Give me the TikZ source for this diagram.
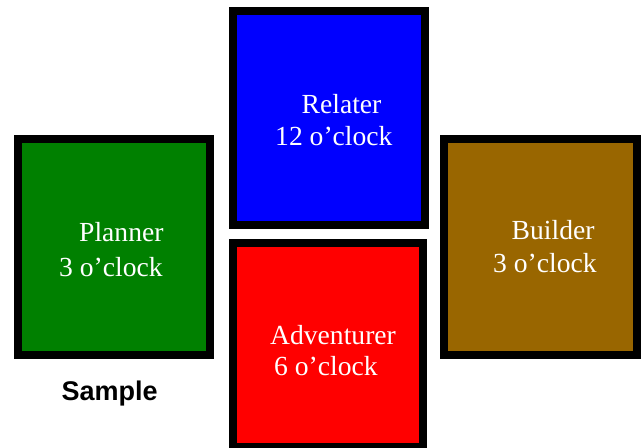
\documentclass[tikz,border=0pt]{standalone}
\usepackage{fontspec}
\setmainfont{Liberation Serif}
\newfontfamily\labelsans{Liberation Sans}
\definecolor{pgreen}{HTML}{008000}
\definecolor{pblue}{HTML}{0000FF}
\definecolor{pred}{HTML}{FF0000}
\definecolor{pbrown}{HTML}{996600}
\tikzset{
  quad/.style={draw=black, line width=8pt, rectangle, inner sep=0pt},
  qtext/.style={anchor=base west, inner sep=0pt, text=white, font=\fontsize{27.6}{30}\selectfont},
}
\begin{document}
\begin{tikzpicture}[x=1pt,y=-1pt]
\useasboundingbox (0,0) rectangle (644,447);
\node[quad, fill=pgreen, minimum width=192pt, minimum height=216pt] (planner) at (114,247) {};
\node[quad, fill=pblue, minimum width=192pt, minimum height=214pt] (relater) at (329,118) {};
\node[quad, fill=pred, minimum width=190pt, minimum height=204pt] (adventurer) at (328,345) {};
\node[quad, fill=pbrown, minimum width=193pt, minimum height=216pt] (builder) at (540.5,247) {};
\node[qtext] (p1) at (79,241.5) {Planner};
\node[qtext] (p2) at (59,276) {3 o’clock};
\node[qtext] (r1) at (301.5,113.5) {Relater};
\node[qtext] (r2) at (275,145.5) {12 o’clock};
\node[qtext] (a1) at (270,344.5) {Adventurer};
\node[qtext] (a2) at (274,375.5) {6 o’clock};
\node[qtext] (b1) at (511.5,239) {Builder};
\node[qtext] (b2) at (493,272) {3 o’clock};
\node[anchor=base west, inner sep=0pt, font=\labelsans\bfseries\fontsize{27}{30}\selectfont] (sample) at (61.5,400.5) {Sample};
\end{tikzpicture}
\end{document}
